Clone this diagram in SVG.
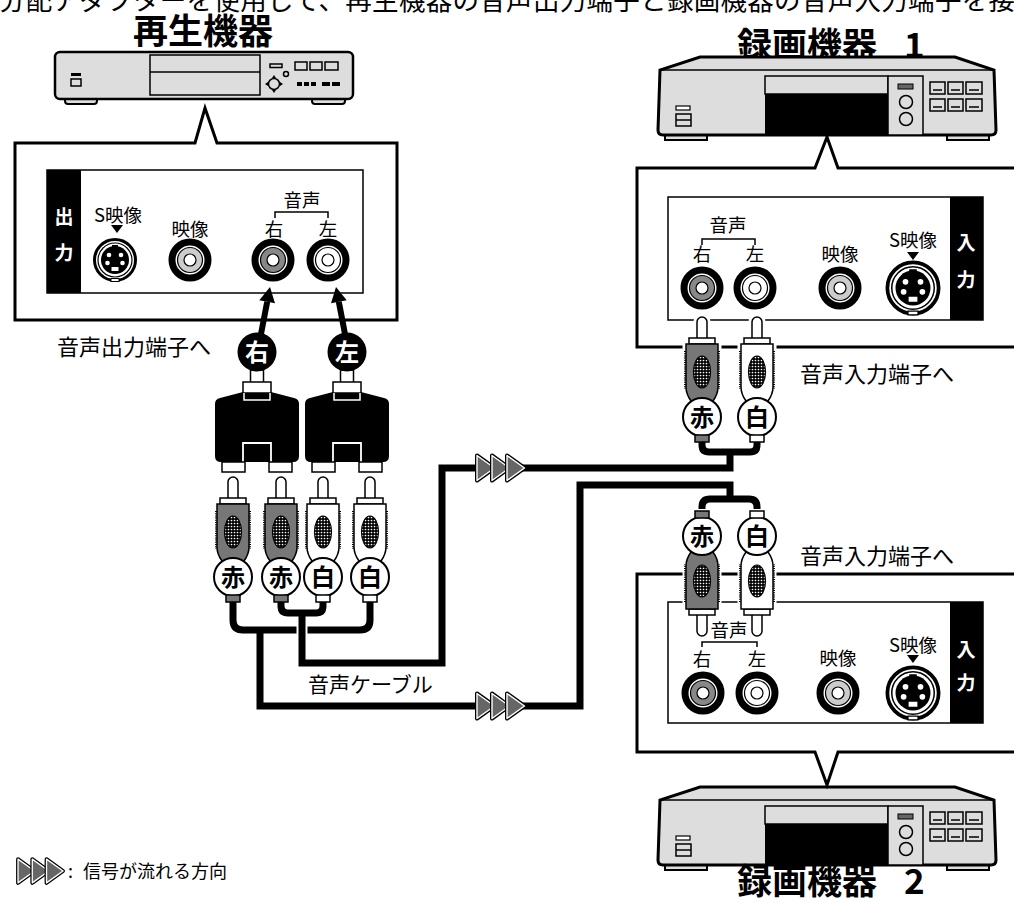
<svg xmlns="http://www.w3.org/2000/svg" xmlns:xlink="http://www.w3.org/1999/xlink" width="1014" height="903" viewBox="0 0 1014 903">
<style>
text{font-family:"Noto Sans CJK JP","Liberation Sans",sans-serif;}
.lab{font-size:18.5px;text-anchor:middle;}
.title{font-size:35px;font-weight:bold;}
.band{font-size:19px;font-weight:bold;fill:#fff;text-anchor:middle;}
.tag{font-size:24px;font-weight:bold;text-anchor:middle;}
.note{font-size:22px;}
.halo{fill:none;stroke:#fff;stroke-width:11;}
.cab{fill:none;stroke:#000;stroke-width:7;}
.dev{fill:#ddd;stroke:#000;}
.thin{fill:none;stroke:#000;stroke-width:1.5;}
</style>
<defs>
<pattern id="mesh" width="3" height="3" patternUnits="userSpaceOnUse">
<rect width="3" height="3" fill="#000"/><circle cx="1.5" cy="1.5" r="0.85" fill="#fff"/>
</pattern>
<g id="tri1">
<path d="M0 -12.5 L17.5 0 L0 12.5 Z" fill="#666" stroke="#000" stroke-width="4" stroke-linejoin="round"/>
<path d="M0 -12.5 L17.5 0 L0 12.5 Z" fill="#666" stroke="#fff" stroke-width="1.4" stroke-linejoin="round"/>
</g>
<g id="tri">
<use xlink:href="#tri1"/><use xlink:href="#tri1" x="15"/><use xlink:href="#tri1" x="30"/>
</g>
<g id="plugR">
<path d="M-5 21 V5 A5 5 0 0 1 5 5 V21 H13 V27 H16 V70 Q16 77 11 84 H-11 Q-16 77 -16 70 V27 H-13 V21 Z" fill="#fff" stroke="#fff" stroke-width="7"/>
<path d="M-5 22 V5 A5 5 0 0 1 5 5 V22 Z" fill="#fff" stroke="#000" stroke-width="1.5"/>
<rect x="-13" y="21" width="26" height="6" fill="#fff" stroke="#000" stroke-width="1.5"/>
<path d="M-16 27 H16 V70 Q16 77 11 84 H-11 Q-16 77 -16 70 Z" fill="#777" stroke="#000" stroke-width="1.5"/>
<path d="M-17 34 V72 M17 34 V72" stroke="#000" stroke-width="2" stroke-dasharray="1 1.2"/>
<ellipse cx="0" cy="55" rx="8.5" ry="16" fill="url(#mesh)" stroke="#000" stroke-width="1.2"/>
<circle cy="100" r="19" fill="#fff" stroke="#000" stroke-width="2"/>
<rect x="-7" y="118" width="14" height="7" fill="#777" stroke="#000" stroke-width="1.5"/>
</g>
<g id="plugW">
<path d="M-5 21 V5 A5 5 0 0 1 5 5 V21 H13 V27 H16 V70 Q16 77 11 84 H-11 Q-16 77 -16 70 V27 H-13 V21 Z" fill="#fff" stroke="#fff" stroke-width="7"/>
<path d="M-5 22 V5 A5 5 0 0 1 5 5 V22 Z" fill="#fff" stroke="#000" stroke-width="1.5"/>
<rect x="-13" y="21" width="26" height="6" fill="#fff" stroke="#000" stroke-width="1.5"/>
<path d="M-16 27 H16 V70 Q16 77 11 84 H-11 Q-16 77 -16 70 Z" fill="#fff" stroke="#000" stroke-width="1.5"/>
<path d="M-17 34 V72 M17 34 V72" stroke="#000" stroke-width="2" stroke-dasharray="1 1.2"/>
<ellipse cx="0" cy="55" rx="8.5" ry="16" fill="url(#mesh)" stroke="#000" stroke-width="1.2"/>
<circle cy="100" r="19" fill="#fff" stroke="#000" stroke-width="2"/>
<rect x="-7" y="118" width="14" height="7" fill="#fff" stroke="#000" stroke-width="1.5"/>
</g>
<g id="adapter">
<rect x="-6.5" y="370" width="13" height="13" fill="#fff" stroke="#000" stroke-width="1.5"/>
<path d="M-14 392 H14 L37 398 Q42 399 42 404 V456 Q42 462 36 462 H-36 Q-42 462 -42 456 V404 Q-42 399 -37 398 Z" fill="#000"/>
<rect x="-14" y="382" width="28" height="11" fill="#fff" stroke="#000" stroke-width="1.5"/>
<path d="M-13 393 V400 H13 V393" fill="none" stroke="#fff" stroke-width="1.5"/>
<path d="M-14 462 V443 H14 V462" fill="none" stroke="#fff" stroke-width="1.8"/>
<rect x="-35" y="462" width="23" height="10" fill="#fff" stroke="#000" stroke-width="1.5"/>
<rect x="12" y="462" width="23" height="10" fill="#fff" stroke="#000" stroke-width="1.5"/>
<circle cy="352" r="19.5" fill="#000"/>
</g>
<g id="rcaRed">
<circle r="18" fill="#fff" stroke="#000" stroke-width="7"/>
<circle r="12.5" fill="#888" stroke="#000" stroke-width="1.2"/>
<circle r="6" fill="#fff" stroke="#000" stroke-width="1.2"/>
</g>
<g id="rcaWhite">
<circle r="18" fill="#fff" stroke="#000" stroke-width="7"/>
<circle r="12.5" fill="#fff" stroke="#000" stroke-width="1.2"/>
<circle r="6" fill="#fff" stroke="#000" stroke-width="1.2"/>
</g>
<g id="rcaVideo">
<circle r="18" fill="#fff" stroke="#000" stroke-width="7"/>
<circle r="12.5" fill="#ccc" stroke="#000" stroke-width="1.2"/>
<circle r="6" fill="#fff" stroke="#000" stroke-width="1.2"/>
</g>
<g id="svideo">
<circle r="20.5" fill="#fff" stroke="#000" stroke-width="3"/>
<circle r="17" fill="none" stroke="#000" stroke-width="1.2"/>
<circle r="14" fill="#000"/>
<rect x="-3" y="-15" width="6" height="3" fill="#000"/>
<circle cx="-6" cy="-5" r="2.3" fill="#fff"/><circle cx="6" cy="-5" r="2.3" fill="#fff"/>
<circle cx="-7.5" cy="3" r="2.3" fill="#fff"/><circle cx="7.5" cy="3" r="2.3" fill="#fff"/>
<rect x="-3.5" y="7" width="7" height="4" fill="#fff"/>
<rect x="-4" y="18.5" width="8" height="3" fill="#fff" stroke="#000" stroke-width="1"/>
</g>
<g id="recorder">
<rect class="dev" x="665" y="130" width="42" height="10" stroke-width="2"/>
<rect class="dev" x="947" y="130" width="42" height="10" stroke-width="2"/>
<path class="dev" stroke-width="3" d="M700 57 H955 L994 70 L996 130 Q996 135 991 135 H663 Q658 135 658 130 L660 70 Z"/>
<path class="thin" d="M660 70 H994"/>
<rect x="765" y="94" width="123" height="41" fill="#000"/>
<rect class="dev" x="765" y="76" width="123" height="18" stroke-width="1.5"/>
<rect class="dev" x="888" y="76" width="35" height="59" stroke-width="1.5"/>
<rect x="898" y="84" width="15" height="5" fill="#666" stroke="#000" stroke-width="1"/>
<circle cx="906" cy="102" r="6.5" class="thin"/>
<circle cx="906" cy="119" r="6.5" class="thin"/>
<g class="dev" stroke-width="1.5">
<rect x="930" y="82" width="15" height="12"/><rect x="948" y="82" width="15" height="12"/><rect x="966" y="82" width="16" height="12"/>
<rect x="930" y="99" width="15" height="12"/><rect x="948" y="99" width="15" height="12"/><rect x="966" y="99" width="16" height="12"/>
</g>
<path class="thin" stroke-width="1.2" d="M933 90 H942 M951 90 H960 M969 90 H979 M933 107 H942 M951 107 H960 M969 107 H979"/>
<rect x="676" y="106" width="14" height="4" fill="#fff" stroke="#000" stroke-width="1.2"/>
<rect x="676" y="114" width="15" height="12" fill="#ddd" stroke="#000" stroke-width="1.5"/>
<path class="thin" stroke-width="1.2" d="M676 120 H691"/>
</g>
</defs>

<rect width="1014" height="903" fill="#fff"/>

<text x="-1" y="10" font-size="26.5" textLength="1016" lengthAdjust="spacing">分配アダプターを使用して、再生機器の音声出力端子と録画機器の音声入力端子を接</text>

<!-- Player -->
<g id="player">
<text class="title" x="203" y="44" text-anchor="middle" font-size="33">再生機器</text>
<rect class="dev" x="65" y="95" width="32" height="9" rx="3" stroke-width="2"/>
<rect class="dev" x="312" y="95" width="33" height="9" rx="3" stroke-width="2"/>
<rect class="dev" x="55" y="52" width="298" height="47" rx="5" stroke-width="2.5"/>
<rect class="dev" x="150" y="55" width="110" height="40" stroke-width="1.5"/>
<path class="thin" d="M150 72 H260"/>
<rect x="71" y="73" width="10" height="3" fill="#000"/>
<rect x="71" y="79" width="10" height="7" class="thin" stroke-width="1.3"/>
<rect x="270" y="64" width="12" height="3.5" class="thin" stroke-width="1"/>
<circle cx="286" cy="74" r="2.5" class="thin" stroke-width="1"/>
<circle cx="274" cy="84" r="5.5" class="thin" stroke-width="1"/>
<path d="M274 75 l-2 3 h4 Z M274 93 l-2 -3 h4 Z M265 84 l3 -2 v4 Z M283 84 l-3 -2 v4 Z" fill="#000"/>
<g class="thin"><rect x="295" y="62" width="12" height="8"/><rect x="310" y="62" width="12" height="8"/><rect x="325" y="62" width="13" height="8"/></g>
<g fill="#000"><rect x="297" y="82" width="5" height="4"/><rect x="304" y="82" width="5" height="4"/><rect x="311" y="82" width="5" height="4"/><rect x="322" y="82" width="8" height="4"/><rect x="332" y="82" width="8" height="4"/></g>

<path d="M15 143 H195 L205 108 L217 143 H397 V320 H15 Z" fill="#fff" stroke="#000" stroke-width="3"/>
<rect x="47" y="170" width="316" height="123" fill="#fff" stroke="#000" stroke-width="1.5"/>
<rect x="47" y="170" width="34" height="123" fill="#000"/>
<text class="band" x="64" y="224">出</text>
<text class="band" x="64" y="260">力</text>
<text class="lab" x="118" y="222">S映像</text>
<path d="M111 225 H123 L117 233 Z" fill="#000"/>
<text class="lab" x="190" y="236">映像</text>
<text class="lab" x="302" y="207">音声</text>
<path class="thin" stroke-width="1.3" d="M275 218 V212 H328 V218"/>
<text class="lab" x="274" y="236">右</text>
<text class="lab" x="328" y="236">左</text>
<use xlink:href="#svideo" x="115" y="260"/>
<use xlink:href="#rcaVideo" x="190" y="260"/>
<use xlink:href="#rcaRed" x="273" y="260"/>
<use xlink:href="#rcaWhite" x="328" y="260"/>
</g>

<!-- Recorder 1 -->
<g id="recorder1">
<text class="title" x="737" y="58">録画機器</text>
<text class="title" x="904" y="58">1</text>
<use xlink:href="#recorder"/>
<path d="M1020 168 H838 L827 137 L815 168 H637 V347 H1020" fill="#fff" stroke="#000" stroke-width="3"/>
<rect x="668" y="197" width="315" height="123" fill="#fff" stroke="#000" stroke-width="1.5"/>
<rect x="950" y="197" width="33" height="123" fill="#000"/>
<text class="band" x="966" y="250">入</text>
<text class="band" x="966" y="287">力</text>
<text class="lab" x="728" y="232">音声</text>
<path class="thin" stroke-width="1.3" d="M702 245 V239 H755 V245"/>
<text class="lab" x="702" y="261">右</text>
<text class="lab" x="755" y="261">左</text>
<text class="lab" x="840" y="261">映像</text>
<text class="lab" x="913" y="247">S映像</text>
<path d="M907 252 H919 L913 260 Z" fill="#000"/>
<use xlink:href="#rcaRed" x="702" y="288"/>
<use xlink:href="#rcaWhite" x="755" y="288"/>
<use xlink:href="#rcaVideo" x="840" y="288"/>
<use xlink:href="#svideo" transform="translate(913 288) scale(1.25)"/>
</g>

<!-- Recorder 2 -->
<g id="recorder2">
<use xlink:href="#recorder" y="730"/>
<text class="title" x="737" y="894">録画機器</text>
<text class="title" x="904" y="894">2</text>
<path d="M1020 574 H637 V752 H815 L827 785 L838 752 H1020" fill="#fff" stroke="#000" stroke-width="3"/>
<rect x="668" y="602" width="315" height="121" fill="#fff" stroke="#000" stroke-width="1.5"/>
<rect x="950" y="602" width="33" height="121" fill="#000"/>
<text class="band" x="966" y="657">入</text>
<text class="band" x="966" y="690">力</text>
<text class="lab" x="729" y="637">音声</text>
<path class="thin" stroke-width="1.3" d="M702 647 V642 H757 V647"/>
<text class="lab" x="702" y="666">右</text>
<text class="lab" x="757" y="666">左</text>
<text class="lab" x="838" y="665">映像</text>
<text class="lab" x="913" y="652">S映像</text>
<path d="M907 655 H919 L913 663 Z" fill="#000"/>
<use xlink:href="#rcaRed" x="703" y="693"/>
<use xlink:href="#rcaWhite" x="757" y="693"/>
<use xlink:href="#rcaVideo" x="838" y="693"/>
<use xlink:href="#svideo" transform="translate(913 693) scale(1.25)"/>
</g>

<!-- Connectors -->
<g id="connectors">
<path class="halo" d="M233 602 V620 Q233 630 243 630 H360 Q370 630 370 620 V602 M260 630 V706 H580 V485 H730 V499 M702 509 V507 Q702 499 710 499 H749 Q757 499 757 507 V509"/>
<path class="cab" d="M233 602 V620 Q233 630 243 630 H360 Q370 630 370 620 V602 M260 630 V706 H580 V485 H730 V499 M702 509 V507 Q702 499 710 499 H749 Q757 499 757 507 V509"/>
<path class="halo" d="M281 602 V606 Q281 613 288 613 H316 Q323 613 323 606 V602 M302 613 V663 H442 V468 H730 V452 M702 442 V445 Q702 452 709 452 H750 Q757 452 757 445 V442"/>
<path class="cab" d="M281 602 V606 Q281 613 288 613 H316 Q323 613 323 606 V602 M302 613 V663 H442 V468 H730 V452 M702 442 V445 Q702 452 709 452 H750 Q757 452 757 445 V442"/>
<use xlink:href="#tri" x="477" y="468"/>
<use xlink:href="#tri" x="477" y="706"/>
<path d="M261 334 L267.2 301.7" stroke="#000" stroke-width="6"/>
<path d="M270 287 L275 303.2 L259.3 300.2 Z" fill="#000"/>
<path d="M345 334 L338.8 301.7" stroke="#000" stroke-width="6"/>
<path d="M336 287 L346.7 300.2 L331 303.2 Z" fill="#000"/>
</g>

<!-- Adapters -->
<g id="adapterR">
<use xlink:href="#adapter" x="257"/>
<text x="257" y="360.5" class="tag" fill="#fff">右</text>
</g>
<g id="adapterL">
<use xlink:href="#adapter" x="347"/>
<text x="347" y="360.5" class="tag" fill="#fff">左</text>
</g>

<!-- Plugs -->
<g id="plugs-left">
<use xlink:href="#plugR" x="233" y="477"/>
<use xlink:href="#plugR" x="281" y="477"/>
<use xlink:href="#plugW" x="323" y="477"/>
<use xlink:href="#plugW" x="370" y="477"/>
<text class="tag" x="233" y="585.5">赤</text>
<text class="tag" x="281" y="585.5">赤</text>
<text class="tag" x="323" y="585.5">白</text>
<text class="tag" x="370" y="585.5">白</text>
</g>
<g id="plugs-rec1">
<use xlink:href="#plugR" x="702" y="317"/>
<use xlink:href="#plugW" x="757" y="317"/>
<text class="tag" x="702" y="425.5">赤</text>
<text class="tag" x="757" y="425.5">白</text>
</g>
<g id="plugs-rec2">
<use xlink:href="#plugR" transform="translate(702 636) scale(1 -1)"/>
<use xlink:href="#plugW" transform="translate(757 636) scale(1 -1)"/>
<text class="tag" x="702" y="544.5">赤</text>
<text class="tag" x="757" y="544.5">白</text>
</g>

<text class="note" x="57" y="355">音声出力端子へ</text>
<text class="note" x="800" y="382">音声入力端子へ</text>
<text class="note" x="800" y="564">音声入力端子へ</text>
<text x="308" y="692" font-size="21">音声ケーブル</text>

<g id="legend">
<use xlink:href="#tri" transform="translate(18 871) scale(0.95)"/>
<text x="68" y="878" font-size="18">:</text>
<text x="83" y="878" font-size="18">信号が流れる方向</text>
</g>
</svg>
